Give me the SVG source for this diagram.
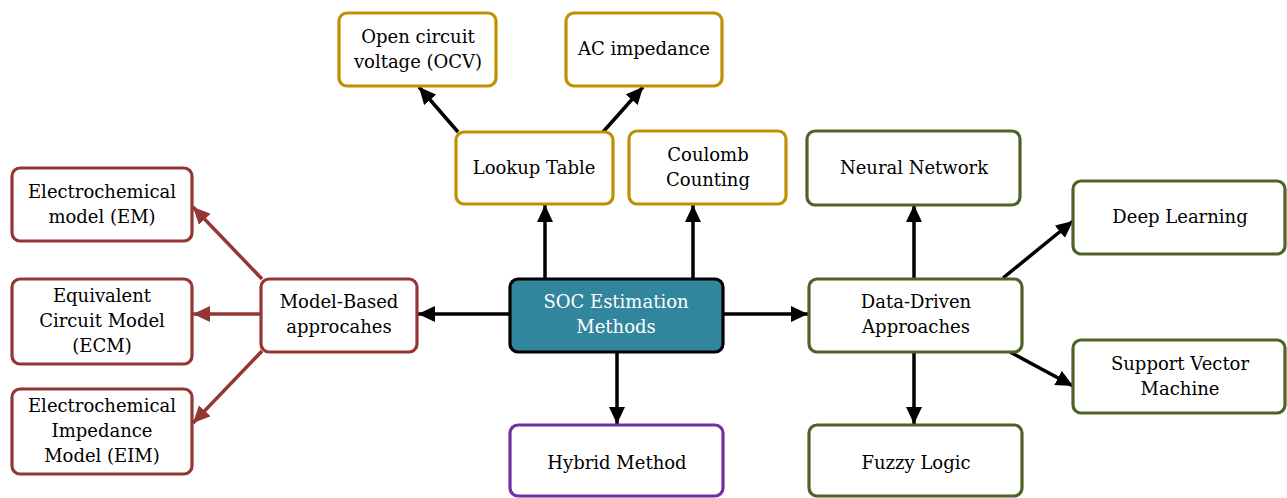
<svg xmlns="http://www.w3.org/2000/svg" width="1287" height="498" viewBox="0 0 1287 498">
<style>
.box{fill:#fff;stroke-width:3.2}
.red{stroke:#943634}
.gold{stroke:#bf9000}
.green{stroke:#4f6228}
.purple{stroke:#7030a0}
.center{fill:#31859c;stroke:#000}
text{font-family:"DejaVu Serif","Liberation Serif",serif;font-size:18px;fill:#000;text-anchor:middle}
.w{fill:#fff}
.e{fill:none;stroke-width:3.5}
.k{stroke:#000;marker-end:url(#ak)}
.r{stroke:#943634;marker-end:url(#ar)}
</style>
<defs>
<marker id="ak" markerUnits="userSpaceOnUse" markerWidth="18" markerHeight="16" refX="17" refY="8" orient="auto"><path d="M0,0 L17,8 L0,16 Z" fill="#000"/></marker>
<marker id="ar" markerUnits="userSpaceOnUse" markerWidth="18" markerHeight="16" refX="17" refY="8" orient="auto"><path d="M0,0 L17,8 L0,16 Z" fill="#943634"/></marker>
</defs>
<g id="connectors">
<line class="e k" x1="509" y1="314" x2="418" y2="314"/>
<line class="e k" x1="723" y1="314" x2="808" y2="314"/>
<line class="e k" x1="617" y1="352" x2="617" y2="424"/>
<line class="e k" x1="545" y1="278" x2="545" y2="205"/>
<line class="e k" x1="693" y1="278" x2="693" y2="205"/>
<line class="e k" x1="458" y1="132" x2="419" y2="87"/>
<line class="e k" x1="603" y1="132" x2="643" y2="87"/>
<line class="e r" x1="262" y1="279" x2="193" y2="207"/>
<line class="e r" x1="260" y1="314" x2="193" y2="314"/>
<line class="e r" x1="262" y1="351" x2="193" y2="423"/>
<line class="e k" x1="914" y1="278" x2="914" y2="205"/>
<line class="e k" x1="1003" y1="278" x2="1073" y2="221"/>
<line class="e k" x1="1010" y1="352" x2="1073" y2="386"/>
<line class="e k" x1="914" y1="352" x2="914" y2="424"/>
</g>
<g id="soc"><rect class="center" x="510" y="279" width="213" height="73" rx="8" stroke-width="3.2"/><text class="w" x="616" y="308">SOC Estimation</text><text class="w" x="616" y="333">Methods</text></g>
<g id="model"><rect class="box red" x="261" y="279" width="156" height="73" rx="8"/><text x="339" y="308">Model-Based</text><text x="339" y="333">approcahes</text></g>
<g id="em"><rect class="box red" x="12" y="168" width="180" height="73" rx="8"/><text x="102" y="198">Electrochemical</text><text x="102" y="223">model (EM)</text></g>
<g id="ecm"><rect class="box red" x="12" y="279" width="180" height="85" rx="8"/><text x="102" y="302">Equivalent</text><text x="102" y="327">Circuit Model</text><text x="102" y="352">(ECM)</text></g>
<g id="eim"><rect class="box red" x="12" y="389" width="180" height="85" rx="8"/><text x="102" y="412">Electrochemical</text><text x="102" y="437">Impedance</text><text x="102" y="462">Model (EIM)</text></g>
<g id="lookup"><rect class="box gold" x="456" y="132" width="157" height="72" rx="8"/><text x="534" y="174">Lookup Table</text></g>
<g id="coulomb"><rect class="box gold" x="629" y="131" width="157" height="73" rx="8"/><text x="708" y="161">Coulomb</text><text x="708" y="186">Counting</text></g>
<g id="ocv"><rect class="box gold" x="339" y="13" width="157" height="73" rx="8"/><text x="418" y="43">Open circuit</text><text x="418" y="68">voltage (OCV)</text></g>
<g id="ac"><rect class="box gold" x="566" y="13" width="156" height="73" rx="8"/><text x="644" y="55">AC impedance</text></g>
<g id="hybrid"><rect class="box purple" x="510" y="425" width="213" height="71" rx="8"/><text x="617" y="469">Hybrid Method</text></g>
<g id="data"><rect class="box green" x="809" y="279" width="213" height="73" rx="8"/><text x="916" y="308">Data-Driven</text><text x="916" y="333">Approaches</text></g>
<g id="nn"><rect class="box green" x="807" y="131" width="213" height="74" rx="8"/><text x="914" y="174">Neural Network</text></g>
<g id="deep"><rect class="box green" x="1073" y="181" width="212" height="73" rx="8"/><text x="1180" y="223">Deep Learning</text></g>
<g id="svm"><rect class="box green" x="1073" y="340" width="212" height="73" rx="8"/><text x="1180" y="370">Support Vector</text><text x="1180" y="395">Machine</text></g>
<g id="fuzzy"><rect class="box green" x="809" y="425" width="213" height="71" rx="8"/><text x="916" y="469">Fuzzy Logic</text></g>
</svg>
